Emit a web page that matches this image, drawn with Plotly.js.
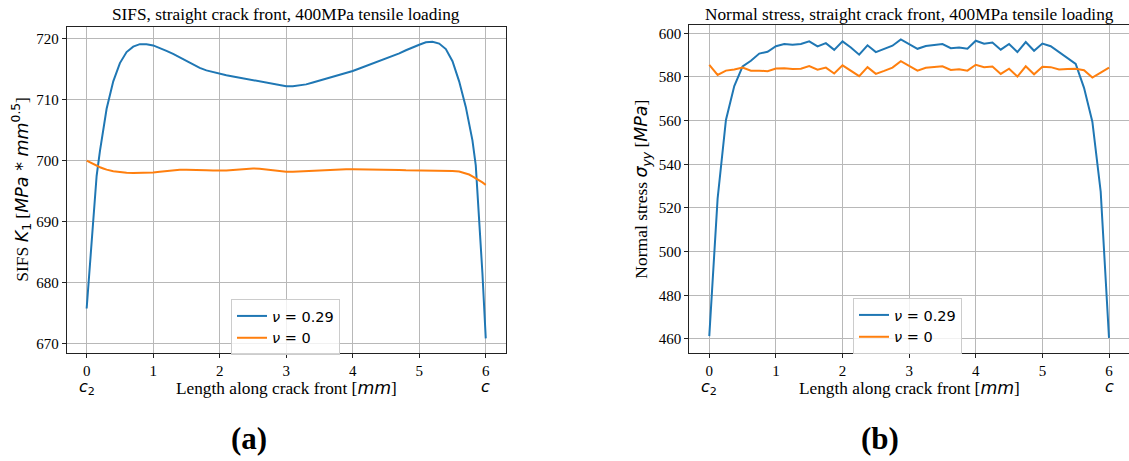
<!DOCTYPE html>
<html>
<head>
<meta charset="utf-8">
<script src="https://cdn.plot.ly/plotly-3.0.1.min.js"></script>
<style>html,body{margin:0;padding:0;background:#fff;}#chart{width:1129px;height:461px;}</style>
</head>
<body>
<div id="chart"></div>
<script>
// ---- Data ----
const xLeft = [0, 0.05, 0.1, 0.15, 0.2, 0.25, 0.3, 0.4, 0.5, 0.6, 0.7, 0.8, 0.9, 1.0, 1.1, 1.2, 1.3, 1.4, 1.5, 1.6, 1.7, 1.8, 1.9, 2.0,
  2.1, 2.2, 2.3, 2.4, 2.5, 2.6, 2.7, 2.8, 2.9, 3.0, 3.1, 3.2, 3.3, 3.4, 3.5, 3.6, 3.7, 3.8, 3.9, 4.0,
  4.1, 4.2, 4.3, 4.4, 4.5, 4.6, 4.7, 4.8, 4.9, 5.0, 5.1, 5.2, 5.3, 5.4, 5.5, 5.6, 5.7, 5.75, 5.8, 5.85, 5.9, 5.95, 6.0];
const sifNu029 = [675.7, 683.0, 691.0, 697.5, 701.6, 705.3, 708.5, 713.0, 716.0, 717.8, 718.7, 719.1, 719.1, 718.9, 718.5, 718.0, 717.5, 716.9, 716.3, 715.7, 715.2, 714.8, 714.5, 714.3,
  714.0, 713.8, 713.6, 713.4, 713.2, 713.0, 712.7, 712.5, 712.3, 712.2, 712.2, 712.3, 712.5, 712.8, 713.1, 713.4, 713.7, 714.1, 714.4, 714.7,
  715.1, 715.5, 715.9, 716.3, 716.7, 717.1, 717.6, 718.1, 718.6, 719.0, 719.4, 719.5, 719.2, 718.3, 716.3, 713.0, 708.8, 706.3, 703.3, 699.2, 690.5, 681.5, 670.8];
const sifNu0 = [700.0, 699.7, 699.4, 699.15, 698.9, 698.7, 698.5, 698.25, 698.1, 698.0, 697.95, 697.95, 698.0, 698.05, 698.15, 698.3, 698.4, 698.5, 698.5, 698.5, 698.45, 698.4, 698.35, 698.3,
  698.35, 698.45, 698.55, 698.65, 698.7, 698.65, 698.5, 698.35, 698.2, 698.15, 698.15, 698.2, 698.3, 698.4, 698.45, 698.5, 698.55, 698.55, 698.55, 698.55,
  698.55, 698.5, 698.5, 698.5, 698.5, 698.45, 698.45, 698.4, 698.4, 698.35, 698.3, 698.3, 698.3, 698.3, 698.3, 698.2, 697.95, 697.7, 697.4, 697.1, 696.8, 696.4, 696.0];

const xRight = [0, 0.125, 0.25, 0.375, 0.5, 0.625, 0.75, 0.875, 1.0, 1.125, 1.25, 1.375, 1.5, 1.625, 1.75, 1.875,
  2.0, 2.125, 2.25, 2.375, 2.5, 2.625, 2.75, 2.875, 3.0, 3.125, 3.25, 3.375, 3.5, 3.625, 3.75, 3.875,
  4.0, 4.125, 4.25, 4.375, 4.5, 4.625, 4.75, 4.875, 5.0, 5.125, 5.25, 5.375, 5.5, 5.625, 5.75, 5.875, 6.0];
const syyNu029 = [461.3, 524.3, 560.3, 575.8, 584.8, 587.4, 590.7, 591.5, 594.1, 595.1, 594.8, 595.1, 596.3, 594.0, 595.5, 592.4,
  596.3, 593.5, 590.2, 594.5, 591.4, 592.8, 594.3, 597.2, 595.1, 592.9, 594.2, 594.5, 595.1, 593.2, 593.5, 592.9,
  596.6, 595.2, 595.8, 592.5, 595.1, 591.4, 596.0, 592.0, 595.3, 594.1, 591.5, 589.0, 586.0, 575.0, 559.5, 527.5, 460.5];
const syyNu0 = [585.5, 580.9, 582.9, 583.4, 584.3, 582.9, 582.9, 582.6, 583.9, 584.0, 583.6, 583.8, 585.0, 583.3, 584.3, 581.6,
  585.3, 582.9, 580.4, 584.5, 581.4, 582.8, 584.3, 587.2, 585.2, 582.9, 584.2, 584.4, 584.9, 583.2, 583.5, 582.9,
  585.6, 584.5, 584.8, 581.4, 583.8, 580.2, 584.9, 581.2, 584.7, 584.5, 583.4, 583.7, 583.8, 583.1, 579.7, 582.0, 584.3];

const seriesNames = ['<i>ν</i> = 0.29', '<i>ν</i> = 0'];
const xTickVals = [0, 1, 2, 3, 4, 5, 6];
const xTickText = ['0', '1', '2', '3', '4', '5', '6'];
const endLabels = ['<i>c</i><sub>2</sub>', '<i>c</i>'];
const endLabelPos = [0, 6];
const titles = ['SIFS, straight crack front, 400MPa tensile loading', 'Normal stress, straight crack front, 400MPa tensile loading'];
const xTitle = 'Length along crack front [<span style="font-family:DejaVu Sans"><i>mm</i></span>]';
const yTitles = [
  'SIFS <span style="font-family:DejaVu Sans"><i>K</i><sub>1</sub></span> [<span style="font-family:DejaVu Sans"><i>MPa</i> * <i>mm</i><sup>0.5</sup></span>]',
  'Normal stress <span style="font-family:DejaVu Sans"><i>σ</i><sub><i>yy</i></sub></span> [<span style="font-family:DejaVu Sans"><i>MPa</i></span>]'
];
const captions = ['<b>(a)</b>', '<b>(b)</b>'];

// ---- Layout helpers (pixel -> paper) ----
const W = 1129, H = 461;
const px = p => p / W;
const py = p => 1 - p / H;
const SERIF = 'Liberation Serif, Times New Roman, serif';
const SANS = 'DejaVu Sans, sans-serif';
const BLUE = '#1f77b4', ORANGE = '#ff7f0e';

const traces = [
  {x: xLeft, y: sifNu029, name: seriesNames[0], type: 'scatter', mode: 'lines', line: {color: BLUE, width: 2}, xaxis: 'x', yaxis: 'y', legend: 'legend'},
  {x: xLeft, y: sifNu0, name: seriesNames[1], type: 'scatter', mode: 'lines', line: {color: ORANGE, width: 2}, xaxis: 'x', yaxis: 'y', legend: 'legend'},
  {x: xRight, y: syyNu029, name: seriesNames[0], type: 'scatter', mode: 'lines', line: {color: BLUE, width: 2}, xaxis: 'x2', yaxis: 'y2', legend: 'legend2'},
  {x: xRight, y: syyNu0, name: seriesNames[1], type: 'scatter', mode: 'lines', line: {color: ORANGE, width: 2}, xaxis: 'x2', yaxis: 'y2', legend: 'legend2'}
];

const axCommon = {
  showline: true, linecolor: '#222', linewidth: 1, mirror: true,
  ticks: 'outside', ticklen: 4, tickwidth: 1, tickcolor: '#222',
  showgrid: true, gridcolor: '#b8b8b8', gridwidth: 1, zeroline: false,
  tickfont: {family: SERIF, size: 15, color: '#000'}, automargin: false
};

const legendCommon = {
  xanchor: 'left', yanchor: 'top', bgcolor: 'rgba(255,255,255,0.8)', bordercolor: '#cccccc', borderwidth: 1,
  font: {family: SANS, size: 14.5, color: '#000'}, tracegroupgap: 0
};

const annotations = [];
const xrefs = ['x', 'x2'];
const titleCenters = [286.2, 909.3];
const yTitleX = [22, 643];
titles.forEach((t, i) => annotations.push({text: t, xref: 'paper', yref: 'paper', x: px(titleCenters[i]), y: py(14), xanchor: 'center', yanchor: 'middle', showarrow: false, font: {family: SERIF, size: 17.3, color: '#000'}}));
xrefs.forEach((xr, i) => {
  endLabels.forEach((lab, j) => annotations.push({text: lab, xref: xr, yref: 'paper', x: endLabelPos[j], y: py(375), xanchor: 'center', yanchor: 'top', showarrow: false, font: {family: SANS, size: 16, color: '#000'}}));
  annotations.push({text: xTitle, xref: 'paper', yref: 'paper', x: px(titleCenters[i]), y: py(388), xanchor: 'center', yanchor: 'middle', showarrow: false, font: {family: SERIF, size: 17.3, color: '#000'}});
  annotations.push({text: yTitles[i], xref: 'paper', yref: 'paper', x: px(yTitleX[i]), y: py(189.7), xanchor: 'center', yanchor: 'middle', textangle: -90, showarrow: false, font: {family: SERIF, size: 17.5, color: '#000'}});
});
const captionCenters = [249, 880];
captions.forEach((c, i) => annotations.push({text: c, xref: 'paper', yref: 'paper', x: px(captionCenters[i]), y: py(438), xanchor: 'center', yanchor: 'middle', showarrow: false, font: {family: SERIF, size: 31, color: '#000'}}));

const layout = {
  width: W, height: H, margin: {l: 0, r: 0, t: 0, b: 0},
  paper_bgcolor: '#fff', plot_bgcolor: '#fff', showlegend: true,
  xaxis: Object.assign({}, axCommon, {domain: [px(66.7), px(505.7)], range: [-0.3, 6.3], tickvals: xTickVals, ticktext: xTickText, anchor: 'y'}),
  yaxis: Object.assign({}, axCommon, {domain: [py(352.7), py(26.7)], range: [668.45, 721.97], dtick: 10, tick0: 670, anchor: 'x'}),
  xaxis2: Object.assign({}, axCommon, {domain: [px(689.3), 1], range: [-0.3, 6.3], tickvals: xTickVals, ticktext: xTickText, anchor: 'y2'}),
  yaxis2: Object.assign({}, axCommon, {domain: [py(352.7), py(25)], range: [453.7, 603.8], dtick: 20, tick0: 460, anchor: 'x2'}),
  legend: Object.assign({}, legendCommon, {x: px(231), y: py(299)}),
  legend2: Object.assign({}, legendCommon, {x: px(853), y: py(298)}),
  annotations: annotations
};

Plotly.newPlot('chart', traces, layout, {displayModeBar: false, staticPlot: true});
</script>
</body>
</html>
